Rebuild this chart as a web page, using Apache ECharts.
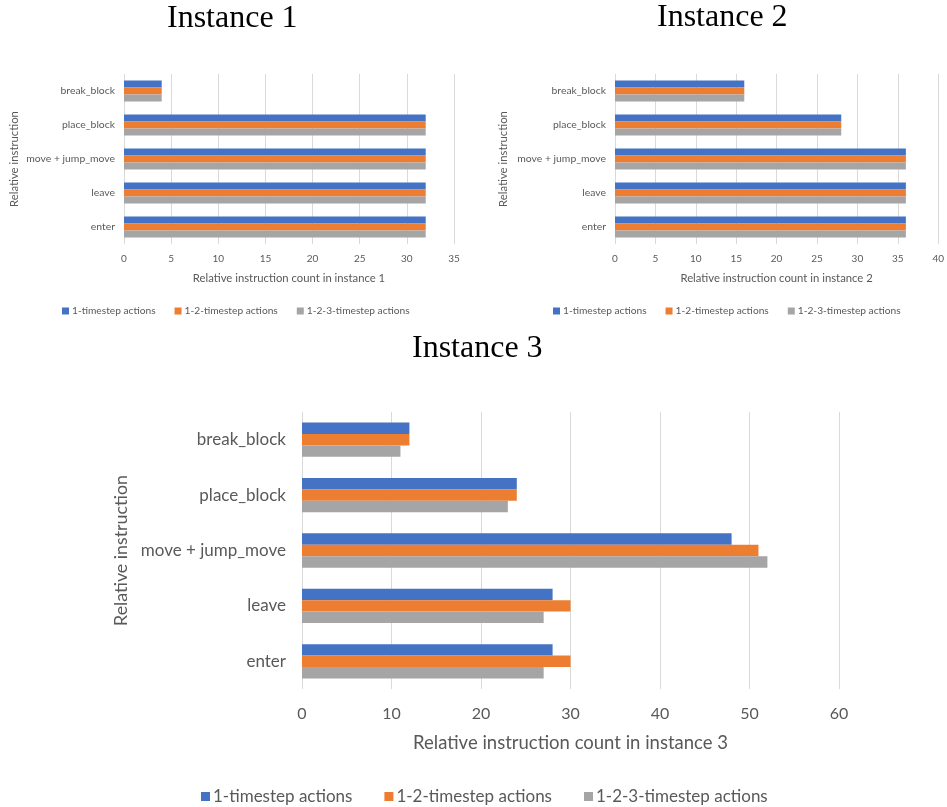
<!DOCTYPE html>
<html>
<head>
<meta charset="utf-8">
<script src="https://cdn.jsdelivr.net/npm/echarts@6/dist/echarts.min.js"></script>
<style>
  html, body { margin: 0; padding: 0; background: #fff; }
  #chart { width: 947px; height: 807px; }
</style>
</head>
<body>
<div id="chart"></div>
<script>
// Instruction categories, bottom to top on the category axis
const categories = ['enter', 'leave', 'move + jump_move', 'place_block', 'break_block'];
const seriesNames = ['1-timestep actions', '1-2-timestep actions', '1-2-3-timestep actions'];
const colors = ['#4472C4', '#ED7D31', '#A5A5A5'];

// Instance 1 counts
const inst1Step1 = [32, 32, 32, 32, 4];
const inst1Step12 = [32, 32, 32, 32, 4];
const inst1Step123 = [32, 32, 32, 32, 4];

// Instance 2 counts
const inst2Step1 = [36, 36, 36, 28, 16];
const inst2Step12 = [36, 36, 36, 28, 16];
const inst2Step123 = [36, 36, 36, 28, 16];

// Instance 3 counts
const inst3Step1 = [28, 28, 48, 24, 12];
const inst3Step12 = [30, 30, 51, 24, 12];
const inst3Step123 = [27, 27, 52, 23, 11];

// Axis ranges
const inst1Max = 35, inst1Step = 5;
const inst2Max = 40, inst2Step = 5;
const inst3Max = 60, inst3Step = 10;

const TEXT = '#595959';
const FONT = 'Lato, "Open Sans", sans-serif';
const GRID_LINE = '#D9D9D9';

const panels = [
  { data: [inst1Step1, inst1Step12, inst1Step123], max: inst1Max, step: inst1Step,
    grid: { left: 124, top: 74, width: 330, height: 170 },
    catSize: 10.4, tickSize: 10, nameSize: 11.3, yNameSize: 11.3,
    catMargin: 9, tickMargin: 10, nameGap: 29, yNameGap: 104,
    xName: 'Relative instruction count in instance 1' },
  { data: [inst2Step1, inst2Step12, inst2Step123], max: inst2Max, step: inst2Step,
    grid: { left: 615, top: 74, width: 328, height: 170 },
    catSize: 10.4, tickSize: 10, nameSize: 11.3, yNameSize: 11.3,
    catMargin: 9, tickMargin: 10, nameGap: 29, yNameGap: 106,
    xName: 'Relative instruction count in instance 2' },
  { data: [inst3Step1, inst3Step12, inst3Step123], max: inst3Max, step: inst3Step,
    grid: { left: 302, top: 412, width: 537, height: 277 },
    catSize: 17, tickSize: 16, nameSize: 18.5, yNameSize: 17.8,
    catMargin: 16, tickMargin: 17, nameGap: 45, yNameGap: 170,
    xName: 'Relative instruction count in instance 3' }
];

const grids = [], xAxes = [], yAxes = [], series = [];
panels.forEach((p, i) => {
  grids.push(Object.assign({ containLabel: false }, p.grid));
  xAxes.push({
    type: 'value', gridIndex: i, min: 0, max: p.max, interval: p.step,
    name: p.xName, nameLocation: 'middle', nameGap: p.nameGap,
    nameTextStyle: { color: TEXT, fontSize: p.nameSize, fontFamily: FONT },
    axisLine: { show: false }, axisTick: { show: false },
    axisLabel: { color: TEXT, fontSize: p.tickSize, fontFamily: FONT, margin: p.tickMargin },
    splitLine: { show: true, lineStyle: { color: GRID_LINE, width: 1 } }
  });
  yAxes.push({
    type: 'category', gridIndex: i, data: categories,
    name: 'Relative instruction', nameLocation: 'middle', nameGap: p.yNameGap, nameRotate: 90,
    nameTextStyle: { color: TEXT, fontSize: p.yNameSize, fontFamily: FONT },
    axisLine: { show: false }, axisTick: { show: false },
    axisLabel: { color: TEXT, fontSize: p.catSize, fontFamily: FONT, margin: p.catMargin },
    splitLine: { show: false }
  });
  p.data.forEach((vals, s) => {
    series.push({
      type: 'bar', name: seriesNames[s], xAxisIndex: i, yAxisIndex: i,
      data: vals, barGap: '0%', barCategoryGap: '38%',
      itemStyle: { color: colors[s] }, animation: false
    });
  });
});

const legendBase = (left, top, size, iconSize, gap) => ({
  left: left, top: top, orient: 'horizontal', data: seriesNames,
  icon: 'rect', itemWidth: iconSize, itemHeight: iconSize, itemGap: gap,
  textStyle: { color: TEXT, fontSize: size, fontFamily: FONT, padding: [0, 0, 0, -2] },
  selectedMode: false
});

const titleStyle = (x, y, text) => ({
  type: 'text', left: x, top: y,
  style: { text: text, fill: '#000', font: '32px "Liberation Serif", "DejaVu Serif", serif' }
});

const chart = echarts.init(document.getElementById('chart'), null, { renderer: 'canvas' });
chart.setOption({
  backgroundColor: '#fff',
  animation: false,
  grid: grids,
  xAxis: xAxes,
  yAxis: yAxes,
  series: series,
  legend: [
    legendBase(57, 301, 10.2, 7, 19),
    legendBase(548, 301, 10.2, 7, 19),
    legendBase(196, 783, 17, 9, 32)
  ],
  graphic: [
    titleStyle(167, 3, 'Instance 1'),
    titleStyle(657, 2, 'Instance 2'),
    titleStyle(412, 333, 'Instance 3')
  ]
});
</script>
</body>
</html>
